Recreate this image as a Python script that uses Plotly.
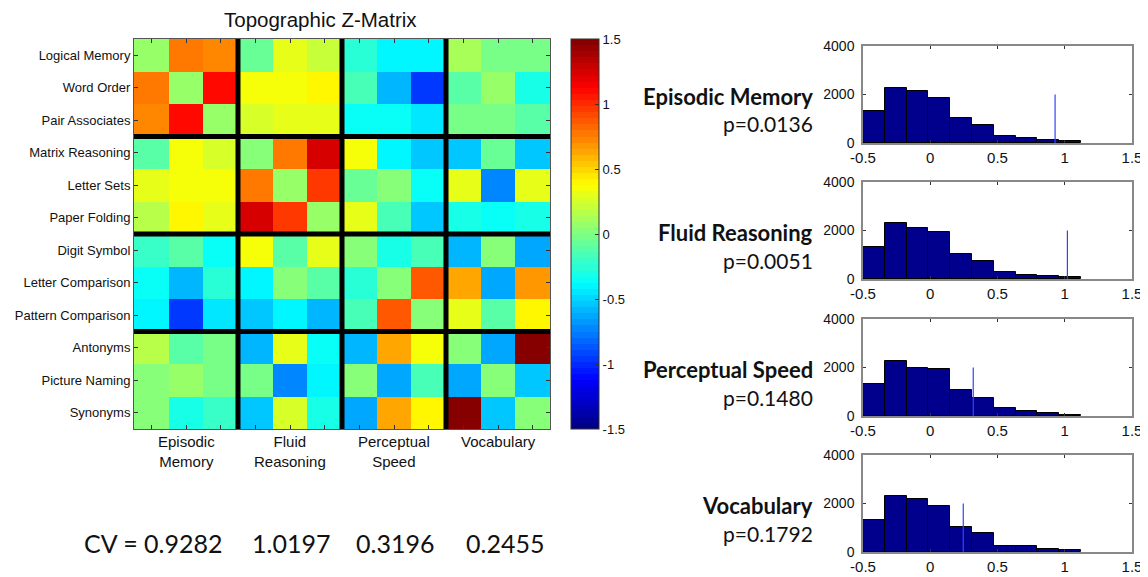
import plotly.graph_objects as go

# the page body has an 8px margin, so the figure is drawn 8px in from the window corner
PAGE_W, PAGE_H = 1148, 577
OFF = 8
W, H = PAGE_W - OFF, PAGE_H - OFF

# ---------------- data ----------------
row_labels = ["Logical Memory", "Word Order", "Pair Associates",
              "Matrix Reasoning", "Letter Sets", "Paper Folding",
              "Digit Symbol", "Letter Comparison", "Pattern Comparison",
              "Antonyms", "Picture Naming", "Synonyms"]
group_labels = ["Episodic<br>Memory", "Fluid<br>Reasoning", "Perceptual<br>Speed", "Vocabulary"]
group_size = 3

z_matrix = [
    [0.05, 0.75, 0.72, -0.08, 0.30, 0.20, -0.28, -0.38, -0.42, 0.10, -0.01, -0.03],
    [0.75, 0.05, 1.10, 0.35, 0.35, 0.42, -0.15, -0.60, -0.95, -0.12, 0.05, -0.30],
    [0.72, 1.10, 0.05, 0.25, 0.30, 0.30, -0.37, -0.35, -0.45, -0.03, -0.03, -0.12],
    [-0.10, 0.35, 0.25, 0.02, 0.75, 1.25, 0.35, -0.42, -0.55, -0.55, -0.05, -0.55],
    [0.30, 0.35, 0.33, 0.75, 0.05, 0.95, -0.08, 0.02, -0.35, 0.30, -0.72, 0.30],
    [0.18, 0.42, 0.32, 1.25, 0.95, 0.05, 0.30, -0.15, -0.55, -0.30, -0.33, -0.30],
    [-0.20, -0.12, -0.35, 0.37, -0.10, 0.30, 0.03, -0.30, -0.15, -0.60, 0.00, -0.65],
    [-0.35, -0.60, -0.27, -0.42, 0.02, -0.10, -0.27, 0.03, 0.85, 0.62, -0.62, 0.70],
    [-0.42, -0.98, -0.45, -0.55, -0.40, -0.58, -0.15, 0.85, 0.03, 0.32, -0.10, 0.42],
    [0.15, -0.10, -0.02, -0.60, 0.30, -0.35, -0.60, 0.62, 0.33, 0.03, -0.65, 1.50],
    [0.00, 0.05, -0.02, -0.02, -0.72, -0.38, 0.00, -0.62, -0.15, -0.62, 0.00, -0.53],
    [0.00, -0.30, -0.20, -0.55, 0.25, -0.30, -0.65, 0.63, 0.42, 1.50, -0.53, 0.02],
]

cb_ticks = [-1.5, -1, -0.5, 0, 0.5, 1, 1.5]
cb_ticktext = ["-1.5", "-1", "-0.5", "0", "0.5", "1", "1.5"]

cv_values = [0.9282, 1.0197, 0.3196, 0.2455]
hist_names = ["Episodic Memory", "Fluid Reasoning", "Perceptual Speed", "Vocabulary"]
p_values = ["p=0.0136", "p=0.0051", "p=0.1480", "p=0.1792"]

bin_centers = [-0.419, -0.257, -0.095, 0.067, 0.229, 0.391, 0.553, 0.715, 0.877, 1.039]
bin_width = 0.162
hist_counts = [
    [1300, 2280, 2150, 1860, 1040, 740, 290, 190, 130, 70],
    [1300, 2330, 2100, 1920, 1040, 745, 290, 180, 140, 80],
    [1320, 2280, 1990, 1930, 1090, 745, 330, 190, 140, 60],
    [1320, 2320, 2200, 1900, 1050, 765, 232, 232, 136, 82],
]
cv_line_height = 2000
hist_xticks = [-0.5, 0, 0.5, 1, 1.5]
hist_xticktext = ["-0.5", "0", "0.5", "1", "1.5"]
hist_yticks = [0, 2000, 4000]

# ---------------- styling helpers ----------------
ARIAL = "Liberation Sans, Arial, sans-serif"
CALIBRI = "Lato, Open Sans, sans-serif"


def jet(t):
    def c(v):
        return max(0.0, min(1.0, v))
    r = c(1.5 - abs(4 * t - 3))
    g = c(1.5 - abs(4 * t - 2))
    b = c(1.5 - abs(4 * t - 1))
    return "rgb(%d,%d,%d)" % (round(r * 255), round(g * 255), round(b * 255))


n_levels = 64
colorscale = []
for i in range(n_levels):
    col = jet((i + 0.5) / n_levels)
    colorscale.append([i / n_levels, col])
    colorscale.append([(i + 1) / n_levels, col])


def fx(px):
    return (px - OFF) / W


def fy(py):
    return 1 - (py - OFF) / H


fig = go.Figure()

n = len(row_labels)
# ---------------- heatmap ----------------
hm_x0, hm_x1, hm_y0, hm_y1 = 134, 550, 39, 429
fig.add_trace(go.Heatmap(
    z=z_matrix, x=list(range(n)), y=list(range(n)),
    colorscale=colorscale, zmin=-1.5, zmax=1.5,
    xaxis="x", yaxis="y",
    colorbar=dict(
        x=fx(571), xanchor="left", xpad=0, ypad=0,
        y=fy((hm_y0 + hm_y1) / 2), yanchor="middle",
        thickness=28, thicknessmode="pixels",
        len=hm_y1 - hm_y0, lenmode="pixels",
        outlinecolor="#333333", outlinewidth=1,
        tickvals=cb_ticks, ticktext=cb_ticktext,
        ticks="inside", ticklen=4, tickcolor="#333333",
        tickfont=dict(family=ARIAL, size=13, color="#111111"),
    ),
    hoverinfo="skip",
))

fig.update_layout(
    xaxis=dict(domain=[fx(hm_x0), fx(hm_x1)], range=[-0.5, n - 0.5],
               tickvals=list(range(n)), ticktext=[""] * n,
               ticks="inside", ticklen=4, tickcolor="#333333",
               showline=True, linecolor="#555555", linewidth=1, mirror="ticks",
               showgrid=False, zeroline=False, anchor="y", automargin=False),
    yaxis=dict(domain=[fy(hm_y1), fy(hm_y0)], range=[n - 0.5, -0.5],
               tickvals=list(range(n)), ticktext=row_labels,
               ticks="inside", ticklen=4, tickcolor="#333333",
               tickfont=dict(family=ARIAL, size=13, color="#111111"),
               showline=True, linecolor="#555555", linewidth=1, mirror="ticks",
               showgrid=False, zeroline=False, anchor="x", automargin=False),
)

shapes = []
for k in range(1, n // group_size):
    pos = k * group_size - 0.5
    shapes.append(dict(type="line", xref="x", yref="y", x0=pos, x1=pos,
                       y0=-0.5, y1=n - 0.5, line=dict(color="black", width=5)))
    shapes.append(dict(type="line", xref="x", yref="y", y0=pos, y1=pos,
                       x0=-0.5, x1=n - 0.5, line=dict(color="black", width=5)))

annotations = []
annotations.append(dict(text="Topographic Z-Matrix", x=fx(320), y=fy(20),
                        xref="paper", yref="paper", showarrow=False,
                        xanchor="center", yanchor="middle",
                        font=dict(family=ARIAL, size=20.5, color="#111111")))
for g, lab in enumerate(group_labels):
    cx = g * group_size + (group_size - 1) / 2
    annotations.append(dict(text=lab, x=cx, xref="x", y=fy(431), yref="paper",
                            showarrow=False, xanchor="center", yanchor="top",
                            font=dict(family=ARIAL, size=15, color="#111111")))

# CV text
cv_pos = [(82, "CV = %.4f"), (250, "%.4f"), (354, "%.4f"), (464, "%.4f")]
for (xp, fmt), v in zip(cv_pos, cv_values):
    annotations.append(dict(text=fmt % v, x=fx(xp), y=fy(543), xref="paper", yref="paper",
                            showarrow=False, xanchor="left", yanchor="middle",
                            font=dict(family=CALIBRI, size=25, color="#111111")))

# ---------------- histograms ----------------
h_x0, h_x1 = 863, 1132
h_tops = [46, 182, 319, 455]
h_height = 97
for i in range(4):
    ax = i + 2
    top = h_tops[i]
    bottom = top + h_height
    fig.add_trace(go.Bar(x=bin_centers, y=hist_counts[i], width=bin_width,
                         marker=dict(color="#00008C", line=dict(color="black", width=1)),
                         xaxis="x%d" % ax, yaxis="y%d" % ax, hoverinfo="skip",
                         showlegend=False))
    fig.add_trace(go.Scatter(x=[cv_values[i], cv_values[i]], y=[0, cv_line_height],
                             mode="lines", line=dict(color="#3344ff", width=1.2),
                             xaxis="x%d" % ax, yaxis="y%d" % ax, hoverinfo="skip",
                             showlegend=False))
    fig.layout["xaxis%d" % ax] = dict(
        domain=[fx(h_x0), fx(h_x1)], range=[-0.5, 1.5], anchor="y%d" % ax,
        tickvals=hist_xticks, ticktext=hist_xticktext,
        ticks="inside", ticklen=3, tickcolor="#333333",
        tickfont=dict(family=ARIAL, size=15, color="#111111"),
        showline=True, linecolor="#888888", linewidth=1.5, mirror="ticks",
        showgrid=False, zeroline=False, automargin=False)
    fig.layout["yaxis%d" % ax] = dict(
        domain=[fy(bottom), fy(top)], range=[0, 4000], anchor="x%d" % ax,
        tickvals=hist_yticks,
        ticks="inside", ticklen=3, tickcolor="#333333",
        tickfont=dict(family=ARIAL, size=14, color="#111111"),
        ticklabelstandoff=4,
        showline=True, linecolor="#888888", linewidth=1.5, mirror="ticks",
        showgrid=False, zeroline=False, automargin=False)
    annotations.append(dict(text="<b>%s</b>" % hist_names[i], x=fx(815), y=fy(top + 50),
                            xref="paper", yref="paper", showarrow=False,
                            xanchor="right", yanchor="middle",
                            font=dict(family=CALIBRI, size=22, color="#111111")))
    annotations.append(dict(text=p_values[i], x=fx(815), y=fy(top + 78),
                            xref="paper", yref="paper", showarrow=False,
                            xanchor="right", yanchor="middle",
                            font=dict(family=CALIBRI, size=21, color="#111111")))

fig.update_layout(
    width=W, height=H, margin=dict(l=0, r=0, t=0, b=0, autoexpand=False),
    paper_bgcolor="white", plot_bgcolor="white",
    showlegend=False, shapes=shapes, annotations=annotations,
    bargap=0,
)

fig.write_html("out.html")
